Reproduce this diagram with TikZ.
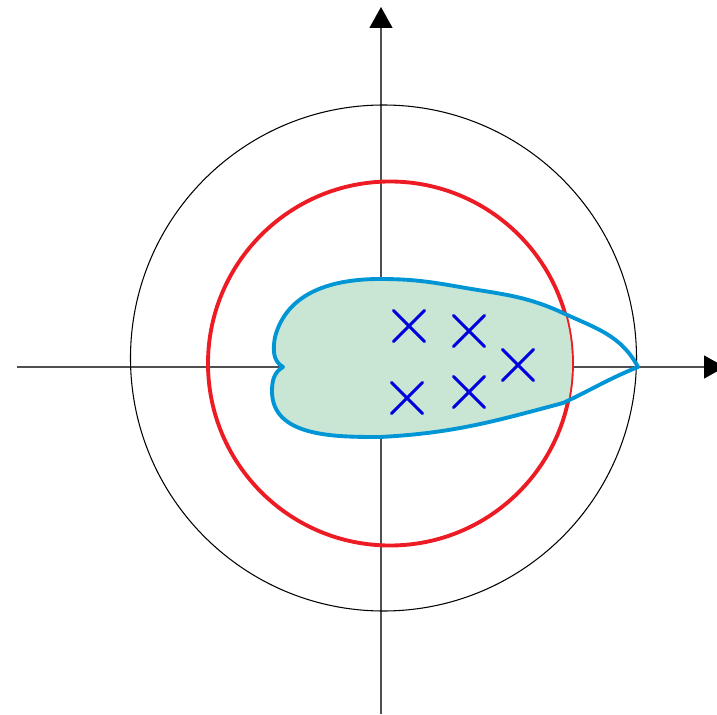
\documentclass[tikz,border=0pt]{standalone}
\usepackage{tikz}
\usetikzlibrary{arrows.meta,shapes.misc}
\definecolor{ring}{RGB}{237,28,36}
\definecolor{lobe}{RGB}{0,150,214}
\definecolor{lobefill}{RGB}{201,230,213}
\definecolor{pole}{RGB}{0,0,220}
\definecolor{axis}{RGB}{80,80,80}
\begin{document}
\begin{tikzpicture}[x=0.02cm,y=0.02cm,>={Triangle[length=0.42cm,width=0.46cm,color=black]}]
\tikzset{axisline/.style={->,draw=axis,line width=0.7pt},
  unitring/.style={draw=black,line width=0.6pt},
  bigring/.style={draw=ring,line width=2.2pt},
  lobeline/.style={draw=lobe,line width=2.2pt,line join=round},
  xmark/.style={cross out,draw=pole,line width=1.8pt,minimum size=0.56cm,inner sep=0pt,line cap=round}}
\useasboundingbox (-381,-347) rectangle (336,367);
% axes
\coordinate (xl) at (-364,0); \coordinate (xr) at (344,0);
\coordinate (yb) at (0,-347); \coordinate (yt) at (0,360);
\draw[axisline] (xl)--(xr);
\draw[axisline] (yb)--(yt);
% circles
\draw[unitring] (2.5,9) circle[radius=253];
\draw[bigring] (9,3.5) circle[radius=182];
% region
\def\lobepath{(257,0) to[out=118,in=-25] (182,54) to[out=155,in=-10] (79,80)
  to[out=170,in=0] (-1,88) to[out=180,in=75] (-106,30) to[out=-100,in=150] (-98,0)
  to[out=-150,in=90] (-109,-24) to[out=-90,in=180] (-1,-70)
  to[out=3,in=195] (182,-36) to[out=25,in=-158] (257,0) -- cycle}
\begin{scope}
\clip (9,3.5) circle[radius=182];
\fill[lobefill] \lobepath;
\end{scope}
\draw[lobeline] \lobepath;
% poles
\node[xmark] (p1) at (28,41) {};
\node[xmark] (p2) at (88,36) {};
\node[xmark] (p3) at (137,2) {};
\node[xmark] (p4) at (26,-31) {};
\node[xmark] (p5) at (88,-25) {};
\end{tikzpicture}
\end{document}
